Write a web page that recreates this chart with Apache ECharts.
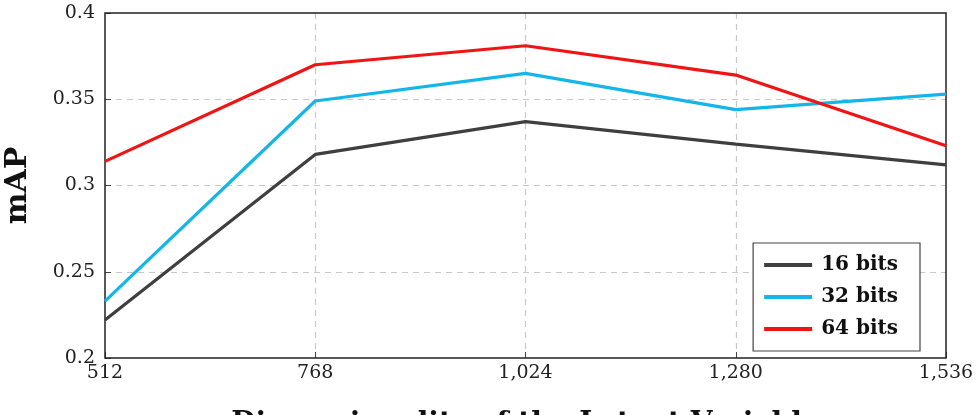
<!DOCTYPE html>
<html>
<head>
<meta charset="utf-8">
<script src="https://cdn.jsdelivr.net/npm/echarts@6/dist/echarts.min.js"></script>
<style>
  html, body { margin: 0; padding: 0; background: #fff; }
  #chart { width: 976px; height: 415px; }
</style>
</head>
<body>
<div id="chart"></div>
<script>
// latent dims on x axis
var dims = [512, 768, 1024, 1280, 1536];
var map16 = [0.222, 0.318, 0.337, 0.324, 0.312];
var map32 = [0.233, 0.349, 0.365, 0.344, 0.353];
var map64 = [0.314, 0.370, 0.381, 0.364, 0.323];
var yTicks = [0.2, 0.25, 0.3, 0.35, 0.4];

var serif = "'DejaVu Serif', 'Liberation Serif', serif";

function pairs(vals) {
    return dims.map(function (d, i) { return [d, vals[i]]; });
}

function mkSeries(name, vals, color) {
    return {
        name: name,
        type: "line",
        data: pairs(vals),
        symbol: "none",
        lineStyle: { color: color, width: 3.2 },
        itemStyle: { color: color }
    };
}

var chart = echarts.init(document.getElementById("chart"));
chart.setOption({
    animation: false,
    grid: {
        left: 105, right: 30, top: 13, bottom: 57,
        outerBoundsMode: "none", containLabel: false,
        show: true, borderColor: "#222", borderWidth: 1.5, z: 3
    },
    legend: {
        orient: "vertical",
        right: 56, bottom: 64,
        icon: "rect", itemWidth: 48, itemHeight: 4, itemGap: 12,
        padding: [12, 22, 12, 11],
        borderColor: "#444", borderWidth: 1.2, backgroundColor: "#fff",
        textStyle: { fontFamily: serif, fontWeight: "bold", fontSize: 20, color: "#111", padding: [0, 0, 0, 4] },
        data: ["16 bits", "32 bits", "64 bits"]
    },
    xAxis: {
        type: "value", min: 512, max: 1536, interval: 256,
        name: "Dimensionality of the Latent Variable",
        nameLocation: "middle", nameGap: 52,
        nameTextStyle: { fontFamily: serif, fontWeight: "bold", fontSize: 28, color: "#111" },
        axisLine: { show: false },
        axisTick: { inside: true, length: 6, lineStyle: { color: "#444" } },
        axisLabel: {
            fontFamily: serif, fontSize: 19, color: "#222", margin: 6,
            formatter: function (v) { return v.toLocaleString("en-US"); }
        },
        splitLine: {
            show: true, showMinLine: false, showMaxLine: false,
            lineStyle: { type: [6, 5], color: "#c8c8c8", width: 1.2 }
        }
    },
    yAxis: {
        type: "value", min: 0.2, max: 0.4, interval: 0.05,
        name: "mAP", nameLocation: "middle", nameGap: 72,
        nameTextStyle: { fontFamily: serif, fontWeight: "bold", fontSize: 30, color: "#111" },
        axisLine: { show: false },
        axisTick: { inside: true, length: 6, lineStyle: { color: "#444" } },
        axisLabel: {
            fontFamily: serif, fontSize: 19, color: "#222", margin: 10,
            formatter: function (v) {
                var t = yTicks.filter(function (y) { return Math.abs(y - v) < 1e-9; })[0];
                return t === undefined ? "" : String(t);
            }
        },
        splitLine: {
            show: true, showMinLine: false, showMaxLine: false,
            lineStyle: { type: [6, 5], color: "#c8c8c8", width: 1.2 }
        }
    },
    series: [
        mkSeries("16 bits", map16, "#3f3f3f"),
        mkSeries("32 bits", map32, "#14b6ea"),
        mkSeries("64 bits", map64, "#f01414")
    ]
});
</script>
</body>
</html>
